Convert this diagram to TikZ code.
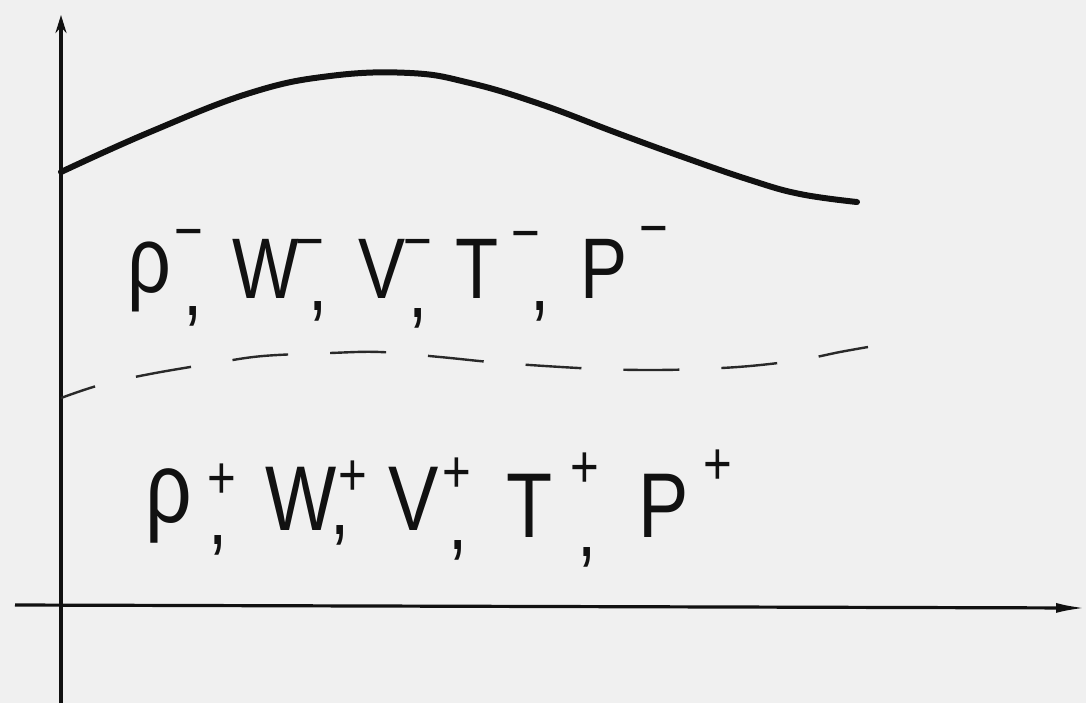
\documentclass[tikz,border=0pt]{standalone}
\usepackage{fontspec}
\setmainfont{Liberation Sans}
\newfontfamily\handfont[FakeStretch=0.82]{Liberation Sans}
\usetikzlibrary{arrows.meta}
\definecolor{paper}{HTML}{F0F0F0}
\definecolor{ink}{HTML}{111111}
\begin{document}
\begin{tikzpicture}[x=0.5pt,y=-0.5pt,
  axis/.style={draw=ink, line width=2pt},
  bound/.style={draw=ink, line width=3pt, line cap=round},
  interface/.style={draw=ink!90, line width=1.2pt, dash pattern=on 28pt off 21pt, dash phase=10pt},
  sym/.style={anchor=base west, inner sep=0pt, font=\handfont\fontsize{43}{45}\selectfont, text=ink},
  symb/.style={sym, font=\handfont\fontsize{46}{48}\selectfont},
  rho/.style={anchor=base west, inner sep=0pt, font=\handfont\fontsize{47}{49}\selectfont, text=ink},
  rhob/.style={rho, font=\handfont\fontsize{50}{52}\selectfont},
  sgn/.style={anchor=center, inner sep=0pt, font=\handfont\fontsize{30}{32}\selectfont, text=ink},
  comma/.style={anchor=north, inner sep=0pt, font=\handfont\fontsize{42}{44}\selectfont, text=ink}]
\fill[paper] (0,0) rectangle (1086,703);
\useasboundingbox (0,0) rectangle (1086,703);

% axes
\coordinate (ybot) at (61,703);
\coordinate (ytop) at (61,15);
\coordinate (xleft) at (15,605);
\coordinate (xright) at (1086,608);
\draw[axis, line width=1.6pt, -{Latex[length=15pt,width=5pt]}] (xleft) -- (xright);
\draw[axis, -{Stealth[length=9pt,width=5.5pt]}] (ybot) -- (ytop);

% upper boundary (solid)
\draw[bound] plot[smooth, tension=0.7] coordinates {
  (61,172) (150,132) (250,93) (330,76) (410,73) (470,83) (540,104)
  (617,133) (683,157) (750,180) (800,194) (857,202)};

% interface (dashed)
\draw[interface] plot[smooth, tension=0.6] coordinates {
  (61,398) (100,385) (150,374) (215,363) (263,356) (330,353) (380,352)
  (440,357) (490,362) (545,366) (600,369) (650,370) (700,369) (750,366)
  (800,360) (840,352) (868,347)};

% upper region labels
\node[rho] (rm) at (127,292) {ρ};
\node[sgn] (rms) at (189,240) {−};
\node[comma] (rmc) at (193,306) {,};
\node[sym] (wm) at (232,298) {W};
\node[sgn] (wms) at (310,250) {−};
\node[comma] (wmc) at (318,301) {,};
\node[sym] (vm) at (358,298) {V};
\node[sgn] (vms) at (418,250) {−};
\node[comma] (vmc) at (418,308) {,};
\node[sym] (tm) at (455,298) {T};
\node[sgn] (tms) at (526,242) {−};
\node[comma] (tmc) at (540,301) {,};
\node[sym] (pm) at (580,298) {P};
\node[sgn] (pms) at (654,237) {−};

% lower region labels
\node[rhob] (rp) at (145,522) {ρ};
\node[sgn] (rps) at (222,481) {+};
\node[comma] (rpc) at (218,535) {,};
\node[symb] (wp) at (265,530) {W};
\node[sgn] (wps) at (353,478) {+};
\node[comma] (wpc) at (340,525) {,};
\node[symb] (vp) at (388,530) {V};
\node[sgn] (vps) at (457,475) {+};
\node[comma] (vpc) at (458,540) {,};
\node[symb] (tp) at (506,537) {T};
\node[sgn] (tps) at (585,470) {+};
\node[comma] (tpc) at (587,547) {,};
\node[symb] (pp) at (638,537) {P};
\node[sgn] (pps) at (718,467) {+};
\end{tikzpicture}
\end{document}
